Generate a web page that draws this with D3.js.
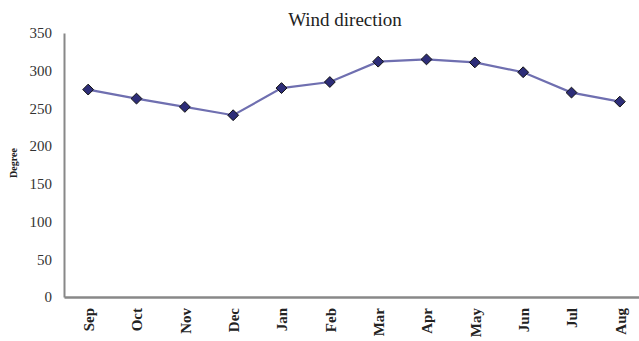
<!DOCTYPE html>
<html>
<head>
<meta charset="utf-8">
<script src="https://cdn.jsdelivr.net/npm/d3@7"></script>
<style>
  html, body { margin: 0; padding: 0; background: #fff; }
  svg { display: block; }
</style>
</head>
<body>
<svg id="chart" width="639" height="341"></svg>
<script>
// Monthly mean wind direction (degrees)
const months = ["Sep", "Oct", "Nov", "Dec", "Jan", "Feb", "Mar", "Apr", "May", "Jun", "Jul", "Aug"];
const degrees = [275, 263, 252, 241, 277, 285, 312, 315, 311, 298, 271, 259];
const yTicks = [0, 50, 100, 150, 200, 250, 300, 350];

const svg = d3.select("#chart");
const W = 639, H = 341;
const margin = { top: 33, right: -5, bottom: 44, left: 64 };
const plotW = W - margin.left - margin.right;
const plotH = H - margin.top - margin.bottom;
const serif = "'Liberation Serif', 'Times New Roman', serif";

const g = svg.append("g").attr("transform", `translate(${margin.left},${margin.top})`);

const x = d3.scalePoint().domain(months).range([0, plotW]).padding(0.5);
const y = d3.scaleLinear().domain([0, 350]).range([plotH, 0]);

// Title
svg.append("text")
  .attr("x", 345).attr("y", 26)
  .attr("text-anchor", "middle")
  .attr("font-family", serif)
  .attr("font-size", 19)
  .attr("fill", "#222")
  .text("Wind direction");

// Y axis
const yAxis = g.append("g")
  .call(d3.axisLeft(y).tickValues(yTicks).tickSize(0).tickPadding(12));
yAxis.select(".domain").attr("stroke", "#888").attr("stroke-width", 2);
yAxis.selectAll("text")
  .attr("font-family", serif)
  .attr("font-size", 15)
  .attr("fill", "#333");

// X axis
const xAxis = g.append("g")
  .attr("transform", `translate(0,${plotH})`)
  .call(d3.axisBottom(x).tickSize(0).tickPadding(0));
xAxis.select(".domain").attr("stroke", "#888").attr("stroke-width", 2.5);
xAxis.selectAll("text")
  .attr("font-family", serif)
  .attr("font-size", 15)
  .attr("font-weight", "bold")
  .attr("fill", "#222")
  .attr("text-anchor", "end")
  .attr("dy", "0.35em")
  .attr("transform", "translate(0,11) rotate(-90)");

// Y axis title
svg.append("text")
  .attr("transform", "translate(17,163) rotate(-90)")
  .attr("text-anchor", "middle")
  .attr("font-family", serif)
  .attr("font-size", 10)
  .attr("font-weight", "bold")
  .attr("fill", "#222")
  .text("Degree");

// Series line
const line = d3.line()
  .x((d, i) => x(months[i]))
  .y(d => y(d));

g.append("path")
  .datum(degrees)
  .attr("fill", "none")
  .attr("stroke", "#6f6fb0")
  .attr("stroke-width", 2.2)
  .attr("d", line);

// Diamond markers
const diamond = d3.symbol().type(d3.symbolDiamond2).size(75);
g.selectAll(".pt")
  .data(degrees)
  .join("path")
  .attr("class", "pt")
  .attr("transform", (d, i) => `translate(${x(months[i])},${y(d)})`)
  .attr("d", diamond)
  .attr("fill", "#2d2d78")
  .attr("stroke", "#111")
  .attr("stroke-width", 1);
</script>
</body>
</html>
